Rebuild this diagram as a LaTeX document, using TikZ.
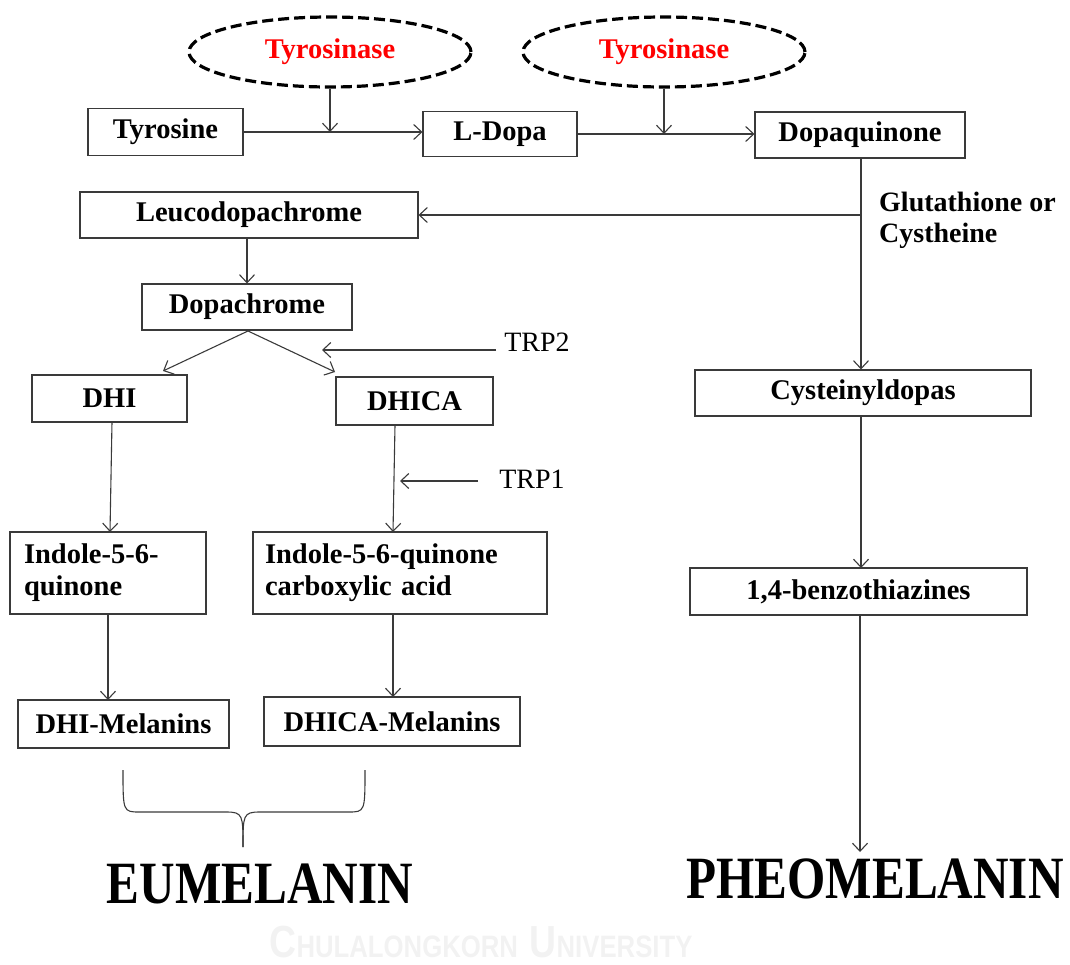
\documentclass[tikz,border=0pt]{standalone}
\usepackage{fontspec}
\setmainfont{Liberation Serif}
\newfontfamily\wmfont{Liberation Sans}
\usetikzlibrary{arrows.meta,shapes.geometric}
\definecolor{linec}{HTML}{3A3A3A}
\tikzset{
  box/.style={draw=linec, line width=1.1pt, inner sep=0pt, font=\fontsize{28.5}{32}\selectfont\bfseries, text=black},
  enz/.style={draw=black, ellipse, dash pattern=on 11pt off 5pt, line width=3.2pt, minimum width=282pt, minimum height=70pt, inner sep=0pt, text=red, font=\fontsize{28.5}{32}\selectfont\bfseries},
  arr/.style={draw=linec, line width=1.1pt, -{Straight Barb[length=8pt,width=15pt,line width=1.1pt]}},
  lbl/.style={font=\fontsize{28}{32}\selectfont, inner sep=0pt},
  big/.style={font=\fontsize{60}{60}\selectfont\bfseries, xscale=0.82, inner sep=0pt},
}
\begin{document}
\begin{tikzpicture}[x=1pt,y=-1pt]
\useasboundingbox (0,0) rectangle (1070,964);
% enzymes
\node[enz] (e1) at (330,52) {Tyrosinase};
\node[enz] (e2) at (664,52) {Tyrosinase};
% top row
\node[box, minimum width=155pt, minimum height=47pt] (tyr) at (165.5,132) {Tyrosine};
\node[box, minimum width=154pt, minimum height=45pt] (ldopa) at (500,134) {L-Dopa};
\node[box, minimum width=210pt, minimum height=46pt] (dq) at (860,135) {Dopaquinone};
% eumelanin branch
\node[box, minimum width=338pt, minimum height=46pt] (leuco) at (249,215) {Leucodopachrome};
\node[box, minimum width=210pt, minimum height=46pt] (dopa) at (247,307) {Dopachrome};
\node[box, minimum width=155pt, minimum height=47pt] (dhi) at (109.5,398.5) {DHI};
\node[box, minimum width=157pt, minimum height=48pt] (dhica) at (414.5,401) {DHICA};
\node[box, minimum height=82pt, text width=168pt, inner xsep=14pt, align=left] (iq) at (108,573) {Indole-5-6-\\quinone};
\node[box, minimum height=82pt, text width=270pt, inner xsep=12pt, align=left] (iqc) at (400,573) {Indole-5-6-quinone\\carboxylic acid};
\node[box, minimum width=211pt, minimum height=48pt] (dhim) at (123.5,724) {DHI-Melanins};
\node[box, minimum width=256pt, minimum height=49pt] (dhicam) at (392,721.5) {DHICA-Melanins};
% pheomelanin branch
\node[box, minimum width=336pt, minimum height=46pt] (cys) at (863,393) {Cysteinyldopas};
\node[box, minimum width=337pt, minimum height=47pt] (benz) at (858.5,591.5) {1,4-benzothiazines};
% labels
\node[lbl, font=\fontsize{28}{31}\selectfont\bfseries, anchor=west, align=left] (glu) at (879,220) {Glutathione or\\Cystheine};
\node[lbl] (trp2) at (537,342) {TRP2};
\node[lbl] (trp1) at (532,479) {TRP1};
\node[big] (eu) at (260,884) {EUMELANIN};
\node[big] (pheo) at (875,879) {PHEOMELANIN};
\node[inner sep=0pt, anchor=base, text=black!5, font=\wmfont\bfseries, xscale=0.83] (wm) at (481,957) {{\fontsize{45}{45}\selectfont C}{\fontsize{31}{31}\selectfont HULALONGKORN}\hspace{14pt}{\fontsize{45}{45}\selectfont U}{\fontsize{31}{31}\selectfont NIVERSITY}};
% coordinates
\coordinate (c1) at (tyr.east -| e1.south);
\coordinate (c2) at (ldopa.east -| e2.south);
\coordinate (br) at (861,215);
\coordinate (t2a) at (496,350);
\coordinate (t2b) at (322,350);
\coordinate (t1a) at (478,481);
\coordinate (t1b) at (400,481);
\coordinate (dsplit) at (248,331);
\coordinate (dhitop) at (163,371);
\coordinate (dhicatop) at (335,372);
% connectors
\draw[arr] (tyr.east) -- (tyr.east -| ldopa.west);
\draw[arr] (e1.south) -- (c1);
\draw[arr] (ldopa.east) -- (ldopa.east -| dq.west);
\draw[arr] (e2.south) -- (c2);
\draw[arr] (dq.south -| br) -- (br |- cys.north);
\draw[arr] (br) -- (leuco.east);
\draw[arr] (leuco.south -| dopa.north) -- (dopa.north);
\draw[arr] (dsplit) -- (dhitop);
\draw[arr] (dsplit) -- (dhicatop);
\draw[arr] (t2a) -- (t2b);
\draw[arr] (112,422) -- (110,532);
\draw[arr] (395,425) -- (393,532);
\draw[arr] (t1a) -- (t1b);
\draw[arr] (iq.south -| 108,0) -- (108,700);
\draw[arr] (iqc.south -| 393,0) -- (393,697);
\draw[arr] (cys.south -| 861,0) -- (861,568);
\draw[arr] (benz.south -| 860,0) -- (860,852);
% brace
\draw[linec, line width=1.1pt] (123,770) .. controls (123,812) and (123,812) .. (140,812) -- (226,812) .. controls (243,812) and (243,815) .. (243,847);
\draw[linec, line width=1.1pt] (365,770) .. controls (365,812) and (365,812) .. (348,812) -- (260,812) .. controls (243,812) and (243,815) .. (243,847);
\end{tikzpicture}
\end{document}
